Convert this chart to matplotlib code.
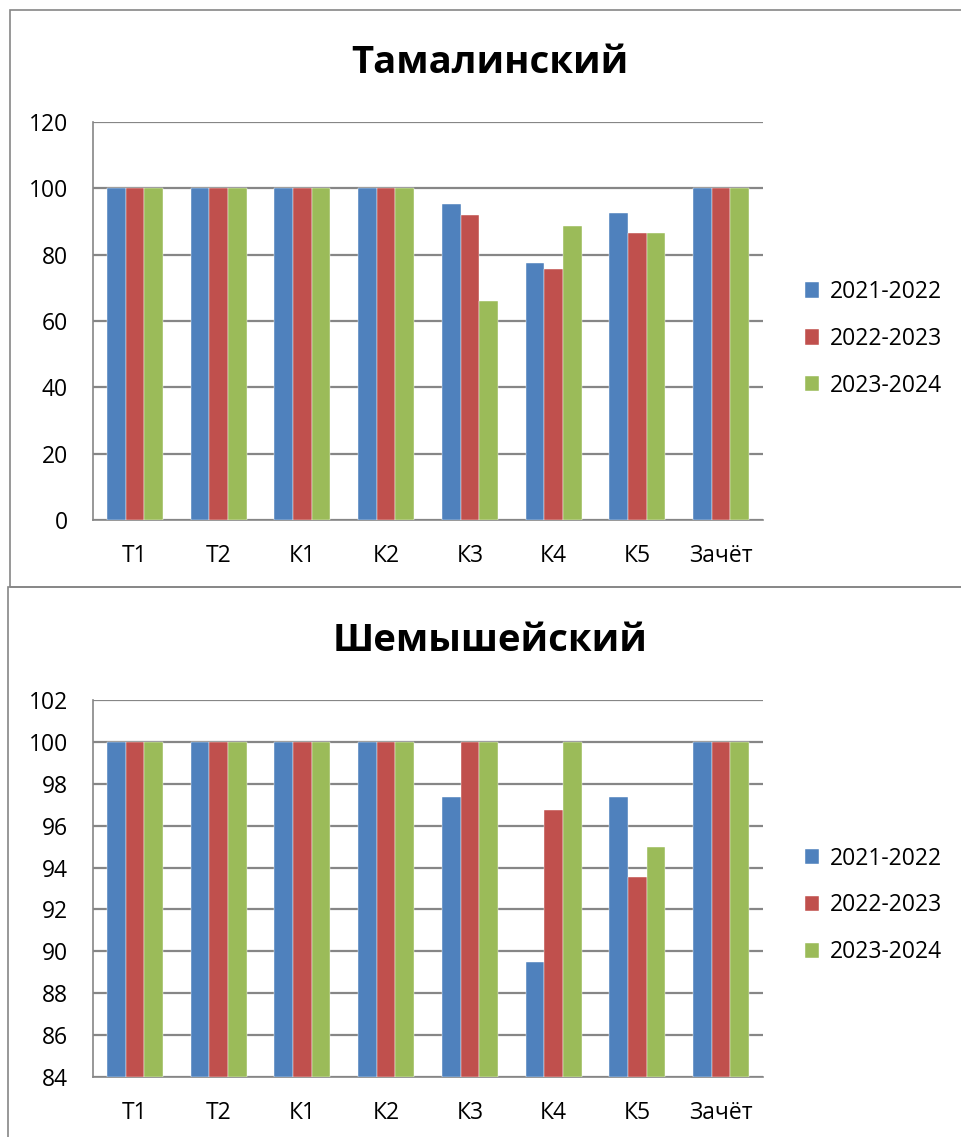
import matplotlib
matplotlib.use('Agg')
import matplotlib.pyplot as plt
import matplotlib.patches as patches
import numpy as np

plt.rcParams['font.family'] = ['Open Sans', 'DejaVu Sans']

categories = ['Т1', 'Т2', 'К1', 'К2', 'К3', 'К4', 'К5', 'Зачёт']
years = ['2021-2022', '2022-2023', '2023-2024']
colors = ['#4F81BD', '#C0504D', '#9BBB59']

# Тамалинский
tam_2122 = [100, 100, 100, 100, 95.2, 77.5, 92.6, 100]
tam_2223 = [100, 100, 100, 100, 92.0, 75.8, 86.6, 100]
tam_2324 = [100, 100, 100, 100, 66.0, 88.7, 86.4, 100]

# Шемышейский
shem_2122 = [100, 100, 100, 100, 97.37, 89.47, 97.37, 100]
shem_2223 = [100, 100, 100, 100, 100, 96.77, 93.55, 100]
shem_2324 = [100, 100, 100, 100, 100, 100, 95.0, 100]

W, H = 961, 1137
fig = plt.figure(figsize=(W / 100, H / 100), dpi=100)


def px_axes(left, top, right, bottom):
    return fig.add_axes([left / W, 1 - bottom / H, (right - left) / W, (bottom - top) / H])


def draw(ax, series, ymin, ymax, step, title, title_y):
    x = np.arange(len(categories))
    bw = 0.222
    for i, vals in enumerate(series):
        ax.bar(x + (i - 1) * bw, np.array(vals) - ymin, bw, bottom=ymin,
               color=colors[i], edgecolor='white', linewidth=0.3,
               label=years[i], zorder=3)
    ax.set_xlim(-0.5, len(categories) - 0.5)
    ax.set_ylim(ymin, ymax)
    ax.set_yticks(np.arange(ymin, ymax + 0.1, step))
    ax.set_xticks(x)
    ax.set_xticklabels(categories)
    ax.tick_params(length=0, labelsize=16.5)
    ax.tick_params(axis='x', pad=17)
    ax.tick_params(axis='y', pad=18)
    ax.yaxis.grid(True, color='#868686', linewidth=1.6, zorder=0)
    for s in ['top', 'right']:
        ax.spines[s].set_visible(False)
    for s in ['left', 'bottom']:
        ax.spines[s].set_color('#868686')
        ax.spines[s].set_linewidth(1.2)
    ax.legend(loc='center left', bbox_to_anchor=(1.062, 0.455), frameon=False,
              fontsize=16.5, handlelength=0.65, handleheight=0.65,
              handletextpad=0.45, labelspacing=1.0, borderpad=0,
              borderaxespad=0)
    fig.text(490 / W, 1 - title_y / H, title, ha='center', va='center',
             fontsize=27.5, fontweight='bold')


ax1 = px_axes(93, 122, 763, 520)
draw(ax1, [tam_2122, tam_2223, tam_2324], 0, 120, 20, 'Тамалинский', 63)

ax2 = px_axes(93, 700, 763, 1077)
draw(ax2, [shem_2122, shem_2223, shem_2324], 84, 102, 2, 'Шемышейский', 641)

# chart borders
fig.add_artist(patches.Rectangle((10 / W, 1 - 587 / H), 1.0, 577 / H,
                                 transform=fig.transFigure, fill=False,
                                 edgecolor='#868686', linewidth=1.2))
fig.add_artist(patches.Rectangle((8 / W, -0.01), 1.0, 1 - 587 / H + 0.01,
                                 transform=fig.transFigure, fill=False,
                                 edgecolor='#868686', linewidth=1.2))

fig.savefig('out.png', dpi=100)
